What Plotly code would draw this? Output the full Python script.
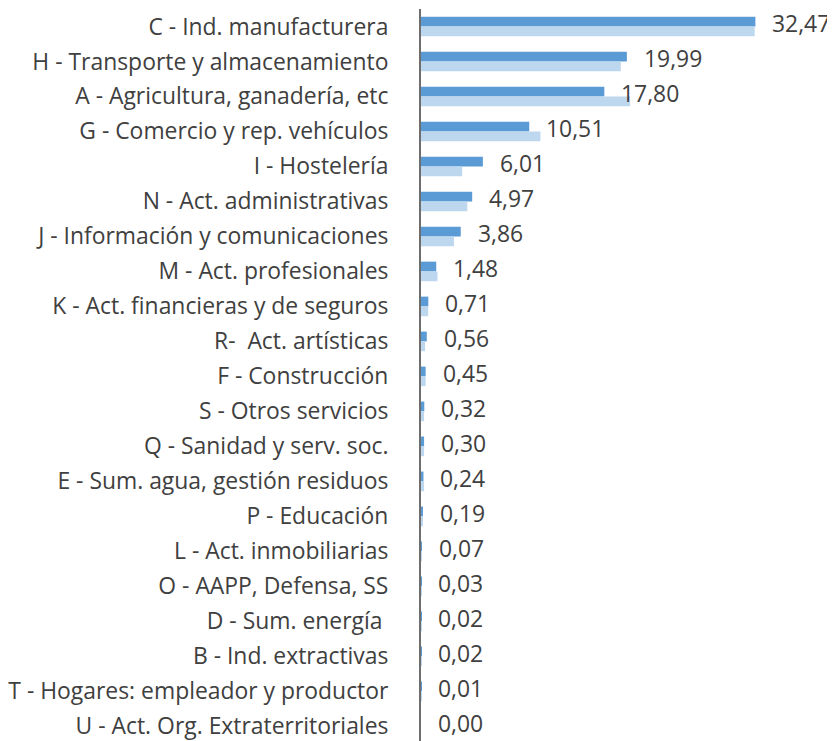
import plotly.graph_objects as go

categories = [
    "C - Ind. manufacturera",
    "H - Transporte y almacenamiento",
    "A - Agricultura, ganadería, etc",
    "G - Comercio y rep. vehículos",
    "I - Hostelería",
    "N - Act. administrativas",
    "J - Información y comunicaciones",
    "M - Act. profesionales",
    "K - Act. financieras y de seguros",
    "R-  Act. artísticas",
    "F - Construcción",
    "S - Otros servicios",
    "Q - Sanidad y serv. soc.",
    "E - Sum. agua, gestión residuos",
    "P - Educación",
    "L - Act. inmobiliarias",
    "O - AAPP, Defensa, SS",
    "D - Sum. energía ",
    "B - Ind. extractivas",
    "T - Hogares: empleador y productor",
    "U - Act. Org. Extraterritoriales",
]

serie_actual = [32.47, 19.99, 17.80, 10.51, 6.01, 4.97, 3.86, 1.48, 0.71, 0.56,
                0.45, 0.32, 0.30, 0.24, 0.19, 0.07, 0.03, 0.02, 0.02, 0.01, 0.00]

serie_anterior = [32.4, 19.4, 20.3, 11.6, 4.0, 4.5, 3.2, 1.6, 0.7, 0.4,
                  0.45, 0.3, 0.3, 0.3, 0.1, 0.05, 0.03, 0.02, 0.02, 0.01, 0.0]

value_labels = [f"{v:.2f}".replace(".", ",") for v in serie_actual]

FONT = "Open Sans"
TXT = "#404040"
FS = 22.9

fig = go.Figure()
fig.add_trace(go.Bar(
    y=categories, x=serie_actual, orientation="h",
    marker=dict(color="#5B9BD5", line=dict(width=0)),
    name="actual",
))
fig.add_trace(go.Bar(
    y=categories, x=serie_anterior, orientation="h",
    marker=dict(color="#BDD7EE", line=dict(width=0)),
    name="anterior",
))

for cat, v, lab in zip(categories, serie_actual, value_labels):
    fig.add_annotation(
        x=v, y=cat, text=lab, showarrow=False,
        xanchor="left", yanchor="middle", xshift=15, yshift=3,
        font=dict(family=FONT, size=FS, color=TXT),
    )

# page body has an 8px margin, so the figure is sized to end at the window edge
fig.update_layout(
    width=827, height=733,
    margin=dict(l=413, r=0, t=1, b=0, pad=0, autoexpand=False),
    paper_bgcolor="white", plot_bgcolor="white",
    barmode="group", bargap=0.44, bargroupgap=0,
    showlegend=False,
    font=dict(family=FONT, size=FS, color=TXT),
)
fig.update_xaxes(
    range=[0, 40.2], showgrid=False, zeroline=False,
    showticklabels=False, showline=False, ticks="", automargin=False,
)
fig.update_yaxes(
    type="category", range=[20.42, -0.5], automargin=False,
    showgrid=False, zeroline=False,
    showline=True, linecolor="#6E6E6E", linewidth=2,
    ticks="", ticklabelstandoff=26,
    tickfont=dict(family=FONT, size=FS, color=TXT),
)

fig.write_html("out.html")
